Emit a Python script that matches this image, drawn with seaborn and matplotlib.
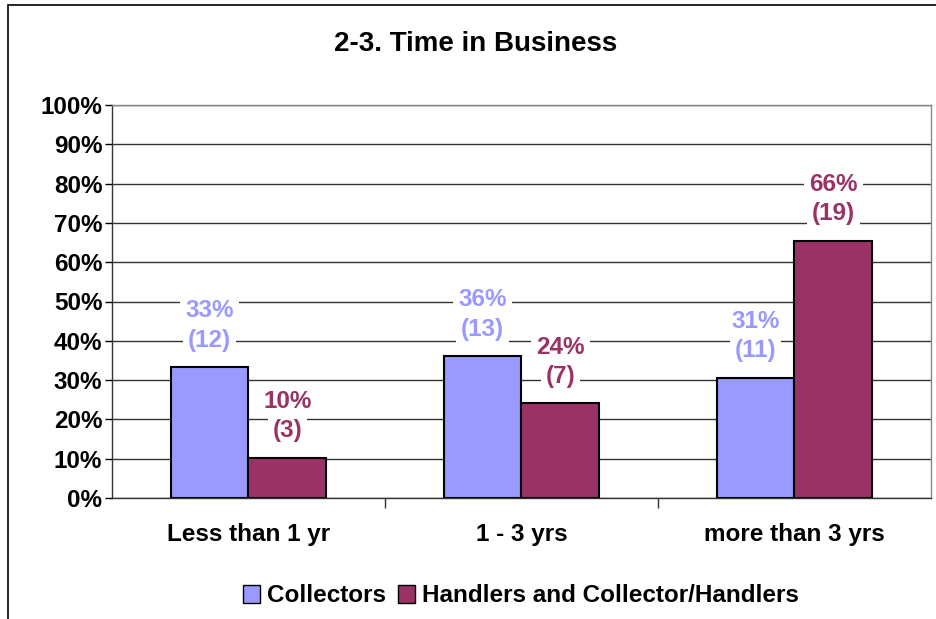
import matplotlib
matplotlib.use("Agg")
import matplotlib.pyplot as plt
import seaborn as sns
import pandas as pd
from matplotlib.patches import Rectangle
from matplotlib.ticker import FixedLocator

categories = ["Less than 1 yr", "1 - 3 yrs", "more than 3 yrs"]
series = ["Collectors", "Handlers and Collector/Handlers"]
collectors_pct = [33.3, 36.1, 30.6]
handlers_pct = [10.3, 24.1, 65.5]
collectors_n = [12, 13, 11]
handlers_n = [3, 7, 19]
colors = ["#9999FF", "#993366"]
yticks = [0, 10, 20, 30, 40, 50, 60, 70, 80, 90, 100]
ytick_labels = [f"{v}%" for v in yticks]

df = pd.DataFrame({
    "category": categories * 2,
    "series": [series[0]] * 3 + [series[1]] * 3,
    "value": collectors_pct + handlers_pct,
})

sns.set_theme(style="white")
plt.rcParams["font.family"] = ["Liberation Sans", "DejaVu Sans"]
plt.rcParams["font.weight"] = "bold"
plt.rcParams["text.color"] = "black"
plt.rcParams["xtick.color"] = "black"
plt.rcParams["ytick.color"] = "black"

FS = 17.5

fig = plt.figure(figsize=(9.37, 6.19), dpi=100)
ax = fig.add_axes([112 / 937, 1 - 498 / 619, 819 / 937, 393 / 619])

sns.barplot(data=df, x="category", y="value", hue="series", order=categories,
            hue_order=series, palette=colors, width=0.571, gap=0, saturation=1,
            edgecolor="black", linewidth=1.5, ax=ax, legend=True)

ax.set_ylim(0, 100)
ax.set_xlim(-0.5, 2.5)
ax.set_yticks(yticks)
ax.set_yticklabels(ytick_labels, fontsize=FS, fontweight="bold", color="black")
ax.yaxis.grid(True, color="#333333", linewidth=1)
ax.set_axisbelow(True)
ax.set_xlabel("")
ax.set_ylabel("")
ax.tick_params(axis="y", which="major", left=True, length=5, width=1, color="black", pad=2)
ax.tick_params(axis="x", which="major", bottom=False, length=0, pad=18)
ax.xaxis.set_minor_locator(FixedLocator([0.5, 1.5]))
ax.tick_params(axis="x", which="minor", bottom=True, length=7, width=1, color="#333333")
for lbl in ax.get_xticklabels():
    lbl.set_fontsize(FS)
    lbl.set_fontweight("bold")
    lbl.set_color("black")

for side in ["left", "bottom"]:
    ax.spines[side].set_color("#333333")
    ax.spines[side].set_linewidth(1)
for side in ["top", "right"]:
    ax.spines[side].set_visible(True)
    ax.spines[side].set_color("#888888")
    ax.spines[side].set_linewidth(1)

counts = [collectors_n, handlers_n]
pcts = [collectors_pct, handlers_pct]
bbox = dict(boxstyle="square,pad=0.2", fc="white", ec="none")
for si, cont in enumerate(ax.containers):
    for bi, bar in enumerate(cont):
        cx = bar.get_x() + bar.get_width() / 2
        top = bar.get_height()
        ax.annotate(f"({counts[si][bi]})", xy=(cx, top), xytext=(0, 19.5),
                    textcoords="offset points", ha="center", va="center",
                    fontsize=FS, fontweight="bold", color=colors[si], bbox=bbox)
        ax.annotate(f"{round(pcts[si][bi])}%", xy=(cx, top), xytext=(0, 40.5),
                    textcoords="offset points", ha="center", va="center",
                    fontsize=FS, fontweight="bold", color=colors[si], bbox=bbox)

fig.text(476 / 937, 1 - 44 / 619, "2-3. Time in Business", fontsize=20,
         fontweight="bold", ha="center", va="center", color="black")

leg = ax.legend(loc="center", bbox_to_anchor=(521 / 937, (619 - 596) / 619),
                bbox_transform=fig.transFigure, ncol=2, frameon=False,
                handlelength=0.7, handleheight=0.7,
                handletextpad=0.3, columnspacing=0.5, prop={"weight": "bold", "size": FS})
for t in leg.get_texts():
    t.set_color("black")
for h in leg.legend_handles:
    h.set_edgecolor("black")
    h.set_linewidth(1)

fig.patches.append(Rectangle((8 / 937, -0.05), 2, 1.05 - 5 / 619, transform=fig.transFigure,
                             fill=False, edgecolor="black", linewidth=1.2))

fig.savefig("out.png", dpi=100)
